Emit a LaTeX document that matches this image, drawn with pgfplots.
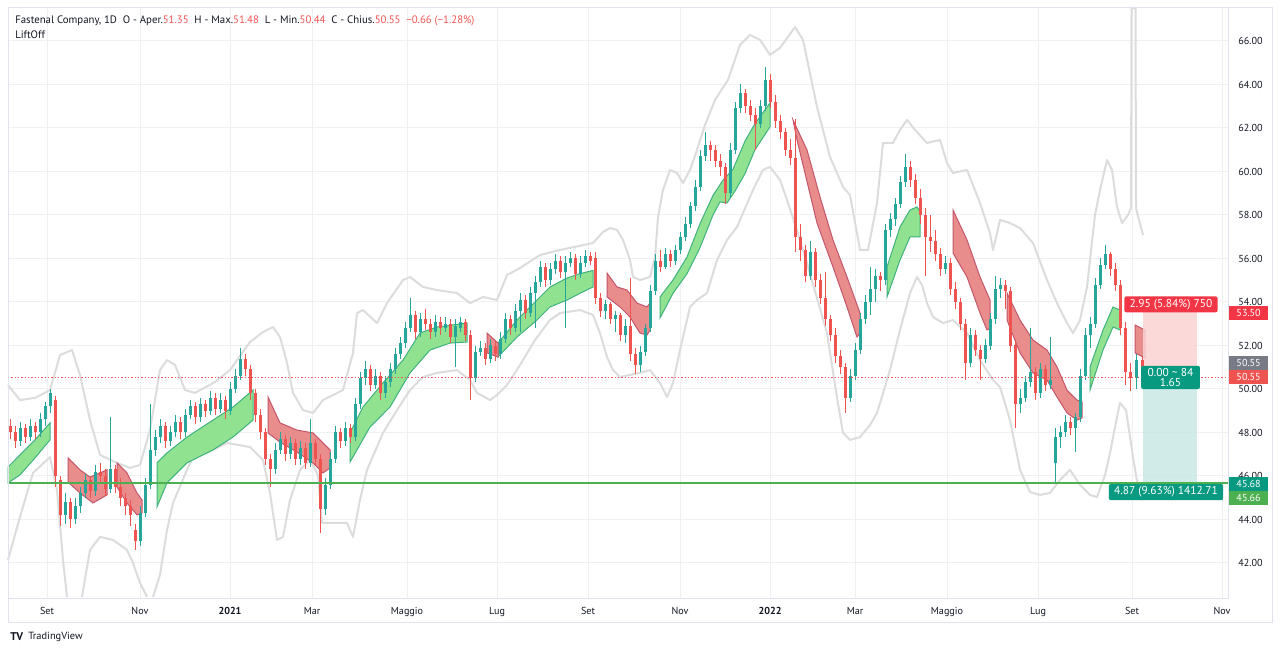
\documentclass[border=0pt]{standalone}
\usepackage{fontspec}
\setmainfont{PT Sans}
\usepackage{pgfplots}
\usepackage{pgfplotstable}
\pgfplotsset{compat=1.18}

\definecolor{upc}{HTML}{26A69A}
\definecolor{dnc}{HTML}{EF5350}
\definecolor{gridc}{HTML}{EEF0F3}
\definecolor{framec}{HTML}{E0E3EB}
\definecolor{bandc}{HTML}{DCDCDC}
\definecolor{cgfill}{HTML}{90E290}
\definecolor{cgtop}{HTML}{3FB27F}
\definecolor{crfill}{HTML}{E98C8C}
\definecolor{crtop}{HTML}{C4566A}
\definecolor{lineg}{HTML}{4CAF50}
\definecolor{posred}{HTML}{F23645}
\definecolor{posteal}{HTML}{089981}
\definecolor{pinkf}{HTML}{FBD3D3}
\definecolor{tealf}{HTML}{C8E8E5}
\definecolor{greyl}{HTML}{787B86}
\definecolor{txt}{HTML}{131722}

% candles: x (pixel position), open, high, low, close
\pgfplotstableread{
x o h l c
10 48.3 48.6 47.7 48.0
15 48.0 48.3 47.3 47.6
20 47.6 48.5 47.4 48.2
25 48.2 48.4 47.5 47.8
30 47.8 48.6 47.6 48.3
35 48.3 48.5 47.7 48.0
40 48.0 48.9 47.8 48.6
45 48.6 49.4 48.3 49.2
50 49.2 50.0 48.9 49.8
55 49.5 49.7 45.5 46.0
60 45.8 46.0 43.7 44.2
65 44.2 45.2 43.8 44.8
70 44.8 45.0 43.6 44.0
75 44.0 45.0 43.8 44.6
80 44.6 45.5 44.3 45.2
85 45.2 46.1 45.0 45.8
90 45.8 46.0 45.0 45.3
95 45.3 46.5 45.1 46.2
100 46.2 46.6 45.7 46.0
105 46.0 46.3 45.1 45.4
110 45.4 48.7 45.2 46.3
115 46.3 46.5 45.2 45.5
120 45.5 45.9 44.6 45.0
125 45.0 45.2 44.2 44.6
130 44.6 44.9 43.7 44.2
135 43.5 43.8 42.6 43.0
140 43.0 44.6 42.8 44.3
145 44.3 45.9 44.1 45.6
150 45.6 49.3 45.4 47.2
155 47.2 48.1 46.9 47.8
160 47.8 48.6 47.5 48.3
165 48.3 48.5 47.3 47.6
170 47.6 48.3 47.4 48.0
175 48.0 48.8 47.8 48.5
180 48.5 48.7 47.7 48.0
185 48.0 49.1 47.8 48.8
190 48.8 49.5 48.6 49.2
195 49.2 49.4 48.4 48.7
200 48.7 49.6 48.5 49.3
205 49.3 49.5 48.7 49.0
210 49.0 49.9 48.8 49.6
215 49.6 49.8 48.8 49.1
220 49.1 49.8 48.9 49.5
225 49.5 49.7 48.6 49.0
230 49.0 50.3 48.8 50.0
235 50.0 50.9 49.8 50.6
240 50.6 51.9 50.4 51.4
245 51.4 51.6 50.6 50.9
250 50.9 51.1 49.5 49.8
255 49.8 50.0 48.5 48.8
260 48.8 49.1 47.7 48.0
265 48.0 48.2 46.5 46.8
270 46.8 47.0 45.5 46.3
275 46.3 47.5 46.1 47.2
280 47.2 48.0 47.0 47.7
285 47.7 47.9 46.7 47.0
290 47.0 47.8 46.8 47.5
295 47.5 47.7 46.5 46.8
300 46.8 47.6 46.5 47.3
305 47.3 47.5 46.3 46.6
310 46.6 48.6 46.4 47.5
315 47.5 47.7 46.5 46.8
320 46.8 47.0 43.4 44.5
325 44.5 45.9 44.2 45.6
330 45.6 47.1 45.4 46.8
335 46.8 48.3 46.6 48.0
340 48.0 48.2 47.3 47.6
345 47.6 48.5 47.4 48.2
350 48.2 48.4 47.5 47.8
355 47.8 49.6 47.6 49.3
360 49.3 50.8 49.1 50.5
365 50.5 51.3 50.2 50.9
370 50.9 51.1 49.9 50.2
375 50.2 50.9 50.0 50.6
380 50.6 50.8 49.5 49.8
385 49.8 50.6 49.6 50.3
390 50.3 51.2 50.1 50.9
395 50.9 51.9 50.7 51.6
400 51.6 52.4 51.4 52.1
405 52.1 53.1 51.9 52.8
410 52.8 54.2 52.6 53.4
415 53.4 53.6 52.3 52.6
420 52.6 53.5 52.4 53.2
425 53.2 53.7 52.7 53.0
430 53.0 53.2 52.3 52.6
435 52.6 53.4 52.4 53.1
440 53.1 53.3 52.5 52.8
445 52.8 53.3 52.6 53.0
450 53.0 53.2 52.1 52.4
455 52.4 53.2 51.0 52.9
460 52.8 53.3 52.6 53.1
465 53.1 53.2 52.2 52.5
470 52.5 52.7 49.5 50.5
475 50.5 52.0 50.3 51.7
480 51.7 52.2 51.5 51.9
485 51.9 52.1 51.1 51.4
490 51.4 52.3 51.2 52.0
495 52.0 52.2 51.3 51.6
500 51.6 52.6 51.4 52.3
505 52.3 53.5 52.1 53.2
510 53.2 53.4 52.5 52.8
515 52.8 53.9 52.6 53.6
520 53.6 54.4 52.6 54.1
525 54.1 54.3 53.2 53.5
530 53.5 54.7 53.3 54.4
535 54.4 55.2 52.8 54.9
540 54.9 55.9 54.7 55.6
545 55.6 55.8 54.7 55.0
550 55.0 55.8 54.8 55.5
555 55.5 56.2 55.3 55.9
560 55.9 56.1 55.1 55.4
565 55.4 56.1 52.8 55.8
570 55.8 56.3 55.6 56.0
575 56.0 56.2 55.0 55.3
580 55.3 56.1 55.1 55.8
585 55.8 56.4 55.6 56.1
590 56.1 56.3 55.7 55.9
595 56.0 56.3 53.9 54.2
600 54.2 54.4 53.3 53.6
605 53.6 54.1 53.2 53.9
610 53.9 54.0 53.0 53.2
615 53.2 53.6 52.6 53.4
620 53.4 53.5 52.2 52.5
625 52.5 53.2 52.1 52.9
630 52.9 55.1 51.3 51.6
635 51.6 51.9 50.7 51.1
640 51.1 52.0 50.8 51.7
645 51.7 53.0 51.5 52.8
650 52.8 54.8 52.6 54.5
655 54.5 56.2 54.3 55.9
660 55.9 56.4 55.4 55.6
665 55.6 56.5 55.5 56.2
670 56.2 56.4 55.6 55.9
675 55.9 56.6 55.7 56.4
680 56.4 57.2 56.2 57.0
685 57.0 57.9 56.8 57.6
690 57.6 58.6 57.4 58.4
695 58.4 59.6 58.2 59.3
700 59.3 61.0 59.1 60.7
705 60.7 61.8 60.5 61.2
710 61.2 61.4 60.5 61.0
715 61.0 61.2 60.2 60.5
720 60.5 60.8 59.8 60.2
725 60.2 60.4 58.5 59.0
730 59.0 61.3 58.8 61.0
735 61.0 63.2 60.8 62.9
740 62.9 64.0 62.7 63.6
745 63.6 63.8 62.7 63.0
750 63.0 63.3 62.3 62.6
755 62.6 62.9 61.0 62.2
760 62.2 63.3 62.0 63.0
765 63.0 64.8 62.8 64.2
770 64.2 64.5 62.9 63.2
775 63.2 63.5 62.0 62.3
780 62.3 62.6 61.5 61.8
785 61.8 62.0 60.7 61.0
790 61.0 61.5 60.3 60.6
795 60.6 62.4 56.3 57.0
800 57.0 57.6 55.9 56.4
805 56.4 56.6 54.9 55.2
810 55.2 56.8 55.0 56.3
815 56.3 56.5 54.7 55.0
820 55.0 55.3 53.9 54.2
825 54.2 55.4 52.9 53.2
830 53.2 53.4 52.2 52.5
835 52.5 52.8 51.2 51.5
840 51.5 51.8 50.7 51.0
845 51.0 51.2 48.9 49.6
850 49.6 50.9 49.4 50.6
855 50.6 52.1 50.4 51.8
860 51.8 53.5 51.6 53.2
865 53.2 54.3 53.0 54.0
870 54.0 55.6 53.4 54.6
875 54.6 55.5 54.0 55.2
880 55.2 55.4 54.5 55.0
885 55.0 57.6 54.8 57.3
890 57.3 58.1 57.0 57.8
895 57.8 58.8 57.5 58.5
900 58.5 59.8 58.3 59.5
905 59.5 60.8 59.3 60.2
910 60.2 60.5 59.3 59.6
915 59.6 59.9 58.5 58.8
920 58.8 59.2 57.6 58.0
925 58.0 58.3 55.2 57.0
930 57.0 58.0 56.3 56.8
935 56.8 57.3 55.9 56.2
940 56.2 56.5 55.2 55.5
945 55.5 56.1 55.3 55.8
950 55.8 56.0 54.3 54.6
955 54.6 54.9 53.7 54.0
960 54.0 54.2 52.7 53.0
965 53.0 53.2 50.4 51.2
970 51.2 52.8 51.0 52.5
975 52.5 52.7 51.5 51.8
980 51.8 52.0 50.4 51.4
985 51.4 52.3 51.2 52.0
990 52.0 53.5 51.8 53.2
995 53.2 55.2 53.0 54.6
1000 54.6 55.1 54.2 54.8
1005 54.8 55.0 53.7 54.5
1010 54.5 54.7 51.7 52.0
1015 52.0 52.2 48.2 49.3
1020 49.3 50.0 48.9 49.6
1025 49.6 50.6 49.4 50.3
1030 50.3 52.8 50.1 50.8
1035 50.8 51.0 49.5 49.8
1040 49.8 51.2 49.6 50.9
1045 50.9 51.1 49.9 50.2
1050 50.2 52.4 50.0 50.4
1055 46.6 48.2 45.68 47.8
1060 47.8 48.3 47.3 48.0
1065 48.0 48.8 47.8 48.5
1070 48.5 48.7 47.9 48.2
1075 48.2 48.9 47.1 48.7
1080 48.7 50.9 48.5 50.6
1085 50.6 52.8 50.4 52.5
1090 52.5 53.3 51.9 53.0
1095 53.0 55.1 52.8 54.8
1100 54.8 56.0 54.6 55.7
1105 55.7 56.6 55.5 56.2
1110 56.2 56.3 55.2 55.5
1115 55.5 55.8 54.5 54.8
1120 54.8 55.0 52.5 52.8
1125 52.8 53.1 50.2 50.8
1130 50.8 51.2 49.9 50.5
1136 50.5 51.6 50.0 51.35
1142 51.35 51.48 50.44 50.55
}\candles

\tikzset{
  pricebox/.style={anchor=west, text=white, minimum height=10.5pt, minimum width=29pt,
    inner xsep=2pt, inner ysep=0pt, font=\fontsize{7.6}{9}\selectfont},
  posbox/.style={text=white, rounded corners=1.5pt, inner xsep=4pt, inner ysep=2pt,
    font=\fontsize{8.6}{9.6}\selectfont, align=center},
}
\pgfplotsset{
  wick/.style={draw=none, mark=none, error bars/y dir=both, error bars/y explicit,
    error bars/error mark=none},
}

\begin{document}
\begin{tikzpicture}
\fill[white] (-6pt,-41.25pt) rectangle (954pt,448.5pt);
\begin{axis}[
  at={(0pt,0pt)}, anchor=south west,
  x=0.75pt, y=16.3125pt,
  xmin=8, xmax=1228, ymin=40.39, ymax=67.52,
  clip=false,
  axis line style={draw=framec, line width=0.75pt},
  grid=major, major grid style={draw=gridc, line width=0.75pt},
  major tick length=0pt,
  ytick={42,44,...,66},
  yticklabel pos=right,
  yticklabel style={anchor=west, xshift=4.2pt,
    /pgf/number format/fixed, /pgf/number format/fixed zerofill,
    /pgf/number format/precision=2, /pgf/number format/assume math mode=true},
  xtick={47,140,230,312,407,497,588,680,770,855,947,1038,1132,1222},
  xticklabels={Set,Nov,\textbf{2021},Mar,Maggio,Lug,Set,Nov,\textbf{2022},Mar,Maggio,Lug,Set,Nov},
  xticklabel style={anchor=north, yshift=-3.5pt},
  tick label style={font=\fontsize{7.6}{9}\selectfont, text=txt},
]

% bands
\addplot[bandc, line width=1.5pt, line join=round] coordinates {
(8,50.18) (20,49.49) (35,49.59) (50,49.95) (60,51.56) (72,51.79) (80,50.64) (90,48.57)
(100,46.97) (115,46.64) (130,46.37) (140,46.51) (150,48.11) (160,50.87) (167,51.33)
(175,51.10) (185,49.95) (195,49.82) (215,50.32) (230,50.87) (250,52.16) (263,52.62)
(273,52.85) (280,52.39) (287,51.20) (293,49.82) (303,49.03) (313,48.90) (323,49.49)
(343,49.95) (353,51.66) (357,53.49) (363,53.63) (377,53.03) (387,53.95) (403,55.01)
(410,55.15) (423,54.69) (437,54.55) (457,54.41) (470,53.95) (483,54.23) (497,54.09)
(507,55.24) (520,55.56) (540,56.16) (560,56.39) (593,56.71) (603,57.22) (610,57.40)
(617,57.31) (623,56.85) (630,55.93) (633,55.15) (640,55.01) (650,55.15) (655,56.07)
(658,57.91) (663,59.15) (670,60.07) (677,59.93) (683,59.47) (690,60.07) (697,60.99)
(705,62.14) (715,63.29) (728,64.21) (740,65.82) (750,66.28) (760,66.05) (770,65.36)
(780,65.68) (795,66.64) (803,66.05) (817,62.97) (830,60.67) (843,59.29) (850,58.92)
(860,56.39) (868,56.39) (877,58.55) (883,61.31) (893,61.31) (900,61.91) (907,62.37)
(915,61.91) (927,61.31) (940,61.45) (947,60.39) (953,59.93) (967,60.07) (980,58.55)
(990,57.17) (993,56.39) (1000,57.77) (1010,57.63) (1020,57.40) (1033,56.71) (1047,55.01)
(1057,53.95) (1067,53.03) (1073,52.57) (1080,53.17) (1087,54.69) (1095,58.0) (1100,59.15)
(1107,60.53) (1112,60.07) (1117,58.37) (1122,57.63) (1128,58.0) (1131,58.32)
(1131.5,67.52) (1135.5,67.52) (1136,58.3) (1143,57.08)};
\addplot[bandc, line width=1.5pt, line join=round] coordinates {
(8,42.14) (20,44.12) (33,46.14) (50,46.87) (57,45.36) (63,42.14) (67,40.44)};
\addplot[bandc, line width=1.5pt, line join=round] coordinates {
(82,40.44) (90,42.60) (100,43.20) (113,43.06) (127,42.60) (133,42.0) (140,41.08) (147,40.44)};
\addplot[bandc, line width=1.5pt, line join=round] coordinates {
(153,40.44) (160,41.45) (167,43.52) (173,44.76) (187,46.28) (193,46.87) (207,47.06)
(227,47.52) (250,47.33) (263,46.74) (270,45.22) (277,43.06) (283,43.20) (290,44.90)
(300,46.28) (310,46.74) (318,46.05) (322,43.84) (330,43.84) (347,43.84) (353,43.20)
(360,44.90) (367,46.28) (383,47.98) (397,49.03) (410,49.95) (423,50.55) (437,50.74)
(457,50.87) (470,50.41) (477,49.82) (490,49.49) (497,49.72) (507,50.18) (520,51.10)
(535,52.25) (550,53.17) (560,53.49) (580,53.63) (593,53.40) (600,52.57) (607,51.47)
(613,50.87) (620,50.55) (640,50.74) (650,50.87) (660,50.28) (667,49.63) (673,50.28)
(680,51.79) (690,53.77) (697,54.09) (707,54.41) (717,55.93) (727,56.85) (737,57.45)
(753,59.15) (763,60.07) (770,60.21) (780,59.61) (787,58.69) (797,57.3) (807,55.78)
(817,54.18) (827,52.57) (837,49.6) (843,47.98) (850,47.66) (860,47.79) (870,48.34)
(877,48.90) (890,50.87) (900,52.71) (910,54.41) (917,55.15) (922,54.78) (927,53.95)
(933,53.31) (943,53.03) (953,53.17) (967,52.57) (980,51.33) (993,50.41) (1000,50.09)
(1010,48.57) (1020,46.28) (1030,45.26) (1040,45.13) (1050,45.22) (1060,45.82)
(1070,46.28) (1080,45.59) (1090,45.13) (1097,45.03) (1105,46.05) (1110,47.06)
(1117,48.71) (1120,49.36) (1126,49.03) (1133,46.87) (1138,45.49)};

% cloud, rising parts
\addplot[fill=cgfill, draw=cgtop, line width=0.75pt] coordinates {
(8,46.41) (20,46.97) (35,47.66) (50,48.44) (50,47.66) (35,46.83) (20,46.05) (8,45.68)} -- cycle;
\addplot[fill=cgfill, draw=cgtop, line width=0.75pt] coordinates {
(157,46.60) (167,47.06) (187,47.79) (213,48.57) (233,49.17) (253,49.95)
(253,48.57) (233,47.79) (213,47.20) (187,46.60) (167,45.68) (157,44.58)} -- cycle;
\addplot[fill=cgfill, draw=cgtop, line width=0.75pt] coordinates {
(350,47.98) (363,49.17) (383,50.28) (403,51.33) (420,52.57) (437,52.85) (467,53.03)
(467,52.16) (450,52.11) (430,51.79) (410,50.74) (390,49.17) (370,48.25) (350,46.64)} -- cycle;
\addplot[fill=cgfill, draw=cgtop, line width=0.75pt] coordinates {
(498,52.11) (517,53.17) (537,54.09) (550,54.69) (567,55.10) (580,55.30) (593,55.45)
(593,54.69) (580,54.40) (567,54.09) (550,53.77) (537,53.17) (517,52.39) (498,51.47)} -- cycle;
\addplot[fill=cgfill, draw=cgtop, line width=0.75pt] coordinates {
(660,54.23) (673,55.01) (687,56.07) (700,57.6) (713,58.9) (723,59.6) (733,60.1) (745,61.4)
(755,62.2) (770,63.15) (770,62.05) (755,61.0) (745,59.9) (735,59.1) (727,58.55) (720,58.6)
(713,58.0) (700,56.5) (687,55.3) (673,54.4) (660,53.26)} -- cycle;
\addplot[fill=cgfill, draw=cgtop, line width=0.75pt] coordinates {
(887,55.61) (900,57.45) (910,58.23) (917,58.37) (920,58.14)
(920,56.99) (910,56.99) (900,55.93) (887,54.23)} -- cycle;
\addplot[fill=cgfill, draw=cgtop, line width=0.75pt] coordinates {
(1090,51.01) (1103,52.71) (1113,53.77) (1120,53.63)
(1120,52.71) (1113,52.85) (1103,51.79) (1090,49.95)} -- cycle;

% cloud, falling parts
\addplot[fill=crfill, draw=crtop, line width=0.75pt] coordinates {
(68,46.83) (80,46.28) (90,45.95) (100,46.14) (107,46.28)
(107,45.13) (93,44.76) (80,45.22) (68,45.72)} -- cycle;
\addplot[fill=crfill, draw=crtop, line width=0.75pt] coordinates {
(117,46.60) (127,46.14) (137,45.22) (142,44.90) (142,44.30) (137,44.21) (127,44.76) (117,45.49)} -- cycle;
\addplot[fill=crfill, draw=crtop, line width=0.75pt] coordinates {
(268,49.63) (280,48.44) (297,48.11) (313,47.98) (320,47.66) (330,47.20)
(330,46.37) (323,46.14) (313,46.60) (297,47.10) (280,47.56) (268,47.98)} -- cycle;
\addplot[fill=crfill, draw=crtop, line width=0.75pt] coordinates {
(487,52.57) (498,52.11) (498,51.47) (487,51.66)} -- cycle;
\addplot[fill=crfill, draw=crtop, line width=0.75pt] coordinates {
(607,55.33) (617,54.69) (627,54.55) (637,53.95) (647,53.77) (650,53.95)
(650,52.71) (647,52.48) (640,52.57) (630,53.31) (620,53.77) (607,54.23)} -- cycle;
\addplot[fill=crfill, draw=crtop, line width=0.75pt] coordinates {
(793,62.37) (807,60.99) (820,58.83) (833,56.85) (847,55.15) (860,53.49)
(860,52.57) (857,52.39) (847,53.77) (833,55.61) (817,57.63) (797,61.45)} -- cycle;
\addplot[fill=crfill, draw=crtop, line width=0.75pt] coordinates {
(953,58.23) (967,56.85) (980,55.15) (990,54.09)
(990,52.80) (987,52.71) (980,53.49) (967,55.15) (953,56.25)} -- cycle;
\addplot[fill=crfill, draw=crtop, line width=0.75pt] coordinates {
(1007,54.41) (1020,53.17) (1033,52.25) (1047,51.79) (1057,51.01) (1067,49.95) (1077,49.49) (1082,49.40)
(1082,48.67) (1077,48.57) (1067,48.90) (1057,49.63) (1047,50.41) (1033,50.74) (1020,51.66) (1007,53.17)} -- cycle;
\addplot[fill=crfill, draw=crtop, line width=0.75pt] coordinates {
(1135,52.94) (1145,52.71) (1145,51.43) (1135,51.66)} -- cycle;

% long / short position areas
\addplot[draw=none, fill=pinkf, fill opacity=0.85] coordinates {
(1143,50.55) (1197,50.55) (1197,53.54) (1143,53.54)} -- cycle;
\addplot[draw=none, fill=tealf, fill opacity=0.85] coordinates {
(1143,45.68) (1197,45.68) (1197,50.55) (1143,50.55)} -- cycle;

% candles: wicks and bodies
\addplot[wick, restrict expr to domain={\thisrow{c}-\thisrow{o}}{0:100},
  error bars/error bar style={draw=upc, line width=0.75pt}]
  table[x=x, y expr={(\thisrow{h}+\thisrow{l})/2}, y error expr={(\thisrow{h}-\thisrow{l})/2}] {\candles};
\addplot[wick, restrict expr to domain={\thisrow{o}-\thisrow{c}}{0.0001:100},
  error bars/error bar style={draw=dnc, line width=0.75pt}]
  table[x=x, y expr={(\thisrow{h}+\thisrow{l})/2}, y error expr={(\thisrow{h}-\thisrow{l})/2}] {\candles};
\addplot[wick, restrict expr to domain={\thisrow{c}-\thisrow{o}}{0:100},
  error bars/error bar style={draw=upc, line width=2.25pt}]
  table[x=x, y expr={(\thisrow{o}+\thisrow{c})/2}, y error expr={abs(\thisrow{c}-\thisrow{o})/2}] {\candles};
\addplot[wick, restrict expr to domain={\thisrow{o}-\thisrow{c}}{0.0001:100},
  error bars/error bar style={draw=dnc, line width=2.25pt}]
  table[x=x, y expr={(\thisrow{o}+\thisrow{c})/2}, y error expr={abs(\thisrow{c}-\thisrow{o})/2}] {\candles};

% price lines
\addplot[dnc, line width=0.75pt, dash pattern=on 0.9pt off 1.6pt] coordinates {(8,50.55) (1228,50.55)};
\addplot[lineg, line width=1.5pt] coordinates {(8,45.68) (1228,45.68)};

\coordinate (c5350) at (axis cs:1229,53.5);
\coordinate (cgry) at (axis cs:1229,51.19);
\coordinate (c5055) at (axis cs:1229,50.55);
\coordinate (c4568) at (axis cs:1229,45.64);
\coordinate (c4566) at (axis cs:1229,44.99);
\coordinate (cpr) at (axis cs:1171,53.89);
\coordinate (cmid) at (axis cs:1170.5,50.53);
\coordinate (cpt) at (axis cs:1166,45.26);
\end{axis}

% outer frame
\draw[framec, line width=0.75pt] (0pt,-18pt) rectangle (948pt,442.5pt);

% price scale labels
\node[pricebox, fill=posred] at (c5350) {53.50};
\node[pricebox, fill=greyl] at (cgry) {50.55};
\node[pricebox, fill=dnc] at (c5055) {50.55};
\node[pricebox, fill=posteal] at (c4568) {45.68};
\node[pricebox, fill=lineg] at (c4566) {45.66};

% position tool labels
\node[posbox, fill=posred] at (cpr) {2.95 (5.84\%) 750};
\node[posbox, fill=posteal, inner ysep=1.5pt, inner xsep=5pt] at (cmid) {0.00 \textasciitilde{} 84\\[-1.5pt]1.65};
\node[posbox, fill=posteal] at (cpt) {4.87 (9.63\%) 1412.71};

% legend text
\node[anchor=base west, inner sep=0pt, font=\fontsize{8.1}{9}\selectfont, text=txt] at (5.25pt,430.5pt)
  {Fastenal Company, 1D\ \ O - Aper.\textcolor{dnc}{51.35}\ \ H - Max.\textcolor{dnc}{51.48}\ \ L - Min.\textcolor{dnc}{50.44}\ \ C - Chius.\textcolor{dnc}{50.55}\ \ \textcolor{dnc}{−0.66 (−1.28\%)}};
\node[anchor=base west, inner sep=0pt, font=\fontsize{8.1}{9}\selectfont, text=txt] at (5.25pt,419.25pt) {LiftOff};

% footer
\node[anchor=west, inner sep=0pt, font=\fontsize{8.4}{9}\bfseries, text=txt] at (1.5pt,-29.25pt) {TV};
\node[anchor=west, inner sep=0pt, font=\fontsize{7.8}{9}\selectfont, text=txt] at (15pt,-29.25pt) {TradingView};
\end{tikzpicture}
\end{document}
